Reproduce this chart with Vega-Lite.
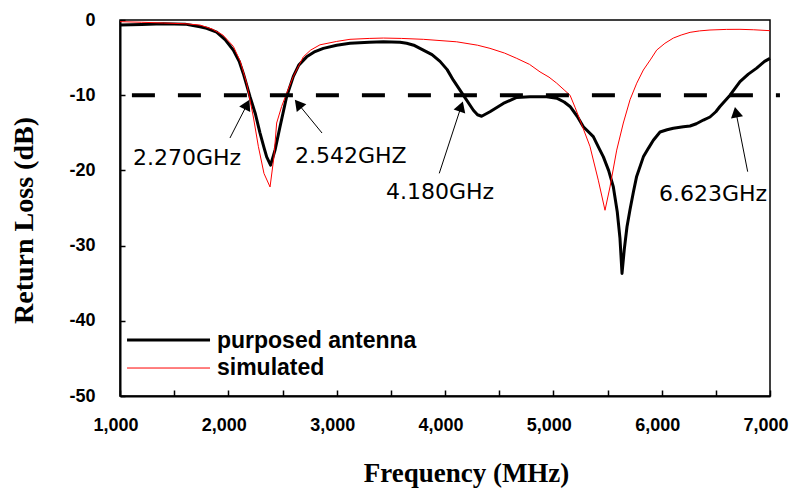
{
  "$schema": "https://vega.github.io/schema/vega-lite/v6.json",
  "width": 650,
  "height": 376,
  "autosize": {"type": "none"},
  "padding": {"left": 120, "top": 20, "right": 20, "bottom": 92},
  "background": "white",
  "config": {
    "view": {"stroke": "black", "strokeWidth": 1.5},
    "axis": {
      "grid": false,
      "domainColor": "black",
      "domainWidth": 2,
      "tickColor": "black",
      "tickWidth": 1.5,
      "labelColor": "black",
      "labelFont": "Liberation Sans",
      "labelFontWeight": "bold",
      "labelFontSize": 18,
      "labelFlush": false,
      "labelOverlap": false,
      "titleFont": "Liberation Serif",
      "titleFontWeight": "bold",
      "titleFontSize": 28,
      "titleColor": "black"
    }
  },
  "datasets": {
    "curves": [
      {"f": 1000, "db": -0.67, "s": "purposed antenna"},
      {"f": 1200, "db": -0.6, "s": "purposed antenna"},
      {"f": 1400, "db": -0.5, "s": "purposed antenna"},
      {"f": 1600, "db": -0.55, "s": "purposed antenna"},
      {"f": 1738, "db": -0.9, "s": "purposed antenna"},
      {"f": 1800, "db": -1.1, "s": "purposed antenna"},
      {"f": 1892, "db": -1.6, "s": "purposed antenna"},
      {"f": 1970, "db": -2.6, "s": "purposed antenna"},
      {"f": 2046, "db": -4.0, "s": "purposed antenna"},
      {"f": 2100, "db": -5.5, "s": "purposed antenna"},
      {"f": 2138, "db": -7.1, "s": "purposed antenna"},
      {"f": 2200, "db": -10.2, "s": "purposed antenna"},
      {"f": 2250, "db": -12.5, "s": "purposed antenna"},
      {"f": 2292, "db": -15, "s": "purposed antenna"},
      {"f": 2330, "db": -17, "s": "purposed antenna"},
      {"f": 2354, "db": -18.2, "s": "purposed antenna"},
      {"f": 2390, "db": -19.3, "s": "purposed antenna"},
      {"f": 2431, "db": -17.3, "s": "purposed antenna"},
      {"f": 2477, "db": -14.2, "s": "purposed antenna"},
      {"f": 2538, "db": -10.2, "s": "purposed antenna"},
      {"f": 2600, "db": -7.5, "s": "purposed antenna"},
      {"f": 2650, "db": -6.0, "s": "purposed antenna"},
      {"f": 2723, "db": -4.9, "s": "purposed antenna"},
      {"f": 2800, "db": -4.2, "s": "purposed antenna"},
      {"f": 2877, "db": -3.77, "s": "purposed antenna"},
      {"f": 3000, "db": -3.35, "s": "purposed antenna"},
      {"f": 3123, "db": -3.1, "s": "purposed antenna"},
      {"f": 3300, "db": -2.95, "s": "purposed antenna"},
      {"f": 3431, "db": -2.9, "s": "purposed antenna"},
      {"f": 3585, "db": -2.97, "s": "purposed antenna"},
      {"f": 3646, "db": -3.1, "s": "purposed antenna"},
      {"f": 3720, "db": -3.4, "s": "purposed antenna"},
      {"f": 3800, "db": -4.0, "s": "purposed antenna"},
      {"f": 3880, "db": -4.6, "s": "purposed antenna"},
      {"f": 3954, "db": -5.5, "s": "purposed antenna"},
      {"f": 4020, "db": -6.6, "s": "purposed antenna"},
      {"f": 4077, "db": -8.0, "s": "purposed antenna"},
      {"f": 4169, "db": -10.0, "s": "purposed antenna"},
      {"f": 4262, "db": -12.0, "s": "purposed antenna"},
      {"f": 4300, "db": -12.6, "s": "purposed antenna"},
      {"f": 4338, "db": -12.8, "s": "purposed antenna"},
      {"f": 4415, "db": -12.2, "s": "purposed antenna"},
      {"f": 4538, "db": -11.1, "s": "purposed antenna"},
      {"f": 4662, "db": -10.3, "s": "purposed antenna"},
      {"f": 4785, "db": -10.2, "s": "purposed antenna"},
      {"f": 4938, "db": -10.2, "s": "purposed antenna"},
      {"f": 5031, "db": -10.4, "s": "purposed antenna"},
      {"f": 5100, "db": -10.9, "s": "purposed antenna"},
      {"f": 5154, "db": -11.5, "s": "purposed antenna"},
      {"f": 5220, "db": -12.8, "s": "purposed antenna"},
      {"f": 5277, "db": -14.2, "s": "purposed antenna"},
      {"f": 5369, "db": -15.5, "s": "purposed antenna"},
      {"f": 5420, "db": -17, "s": "purposed antenna"},
      {"f": 5462, "db": -18.2, "s": "purposed antenna"},
      {"f": 5510, "db": -20, "s": "purposed antenna"},
      {"f": 5554, "db": -22.2, "s": "purposed antenna"},
      {"f": 5590, "db": -25.5, "s": "purposed antenna"},
      {"f": 5615, "db": -29.0, "s": "purposed antenna"},
      {"f": 5634, "db": -33.7, "s": "purposed antenna"},
      {"f": 5655, "db": -30.5, "s": "purposed antenna"},
      {"f": 5680, "db": -27.5, "s": "purposed antenna"},
      {"f": 5708, "db": -25.2, "s": "purposed antenna"},
      {"f": 5740, "db": -22.8, "s": "purposed antenna"},
      {"f": 5769, "db": -20.8, "s": "purposed antenna"},
      {"f": 5831, "db": -18.2, "s": "purposed antenna"},
      {"f": 5880, "db": -17, "s": "purposed antenna"},
      {"f": 5923, "db": -16.0, "s": "purposed antenna"},
      {"f": 5985, "db": -14.9, "s": "purposed antenna"},
      {"f": 6050, "db": -14.6, "s": "purposed antenna"},
      {"f": 6108, "db": -14.4, "s": "purposed antenna"},
      {"f": 6200, "db": -14.2, "s": "purposed antenna"},
      {"f": 6262, "db": -14.1, "s": "purposed antenna"},
      {"f": 6320, "db": -13.8, "s": "purposed antenna"},
      {"f": 6385, "db": -13.3, "s": "purposed antenna"},
      {"f": 6446, "db": -12.9, "s": "purposed antenna"},
      {"f": 6500, "db": -12.2, "s": "purposed antenna"},
      {"f": 6538, "db": -11.5, "s": "purposed antenna"},
      {"f": 6631, "db": -10.0, "s": "purposed antenna"},
      {"f": 6723, "db": -8.2, "s": "purposed antenna"},
      {"f": 6800, "db": -7.2, "s": "purposed antenna"},
      {"f": 6877, "db": -6.4, "s": "purposed antenna"},
      {"f": 6950, "db": -5.5, "s": "purposed antenna"},
      {"f": 7000, "db": -5.1, "s": "purposed antenna"},
      {"f": 1000, "db": -0.22, "s": "simulated"},
      {"f": 1200, "db": -0.3, "s": "simulated"},
      {"f": 1400, "db": -0.4, "s": "simulated"},
      {"f": 1600, "db": -0.5, "s": "simulated"},
      {"f": 1738, "db": -0.67, "s": "simulated"},
      {"f": 1850, "db": -1.2, "s": "simulated"},
      {"f": 1950, "db": -2.0, "s": "simulated"},
      {"f": 2046, "db": -3.5, "s": "simulated"},
      {"f": 2110, "db": -5.5, "s": "simulated"},
      {"f": 2169, "db": -8.4, "s": "simulated"},
      {"f": 2231, "db": -12.9, "s": "simulated"},
      {"f": 2277, "db": -16.8, "s": "simulated"},
      {"f": 2329, "db": -20.4, "s": "simulated"},
      {"f": 2385, "db": -22.2, "s": "simulated"},
      {"f": 2421, "db": -18.2, "s": "simulated"},
      {"f": 2446, "db": -13.7, "s": "simulated"},
      {"f": 2492, "db": -11.5, "s": "simulated"},
      {"f": 2538, "db": -9.75, "s": "simulated"},
      {"f": 2600, "db": -7.5, "s": "simulated"},
      {"f": 2692, "db": -4.9, "s": "simulated"},
      {"f": 2760, "db": -4.0, "s": "simulated"},
      {"f": 2846, "db": -3.3, "s": "simulated"},
      {"f": 3000, "db": -2.85, "s": "simulated"},
      {"f": 3123, "db": -2.57, "s": "simulated"},
      {"f": 3300, "db": -2.45, "s": "simulated"},
      {"f": 3431, "db": -2.4, "s": "simulated"},
      {"f": 3600, "db": -2.45, "s": "simulated"},
      {"f": 3800, "db": -2.57, "s": "simulated"},
      {"f": 4108, "db": -2.9, "s": "simulated"},
      {"f": 4300, "db": -3.35, "s": "simulated"},
      {"f": 4415, "db": -3.77, "s": "simulated"},
      {"f": 4550, "db": -4.4, "s": "simulated"},
      {"f": 4662, "db": -5.1, "s": "simulated"},
      {"f": 4780, "db": -5.9, "s": "simulated"},
      {"f": 4877, "db": -6.9, "s": "simulated"},
      {"f": 4960, "db": -7.6, "s": "simulated"},
      {"f": 5031, "db": -8.4, "s": "simulated"},
      {"f": 5100, "db": -9.3, "s": "simulated"},
      {"f": 5154, "db": -10.0, "s": "simulated"},
      {"f": 5200, "db": -11.6, "s": "simulated"},
      {"f": 5246, "db": -13.3, "s": "simulated"},
      {"f": 5338, "db": -16.8, "s": "simulated"},
      {"f": 5415, "db": -21.3, "s": "simulated"},
      {"f": 5477, "db": -25.3, "s": "simulated"},
      {"f": 5523, "db": -22.2, "s": "simulated"},
      {"f": 5585, "db": -17.3, "s": "simulated"},
      {"f": 5646, "db": -13.7, "s": "simulated"},
      {"f": 5708, "db": -10.6, "s": "simulated"},
      {"f": 5770, "db": -8.4, "s": "simulated"},
      {"f": 5831, "db": -6.65, "s": "simulated"},
      {"f": 5900, "db": -5.2, "s": "simulated"},
      {"f": 5954, "db": -4.0, "s": "simulated"},
      {"f": 6030, "db": -3.1, "s": "simulated"},
      {"f": 6108, "db": -2.4, "s": "simulated"},
      {"f": 6180, "db": -2.0, "s": "simulated"},
      {"f": 6262, "db": -1.64, "s": "simulated"},
      {"f": 6350, "db": -1.45, "s": "simulated"},
      {"f": 6446, "db": -1.33, "s": "simulated"},
      {"f": 6600, "db": -1.25, "s": "simulated"},
      {"f": 6723, "db": -1.24, "s": "simulated"},
      {"f": 6850, "db": -1.3, "s": "simulated"},
      {"f": 7000, "db": -1.42, "s": "simulated"}
    ],
    "threshold": [{"f1": 1110, "f2": 7092, "db": -10}],
    "arrows": [
      {"x1": 2015, "y1": -15.69, "x2": 2173, "y2": -11.24, "ang": 26.6, "tx": 1120, "ty": -19.28, "label": "2.270GHz"},
      {"x1": 2865, "y1": -15.03, "x2": 2645, "y2": -11.16, "ang": 321, "tx": 2615, "ty": -19.02, "label": "2.542GHZ"},
      {"x1": 3947, "y1": -20.39, "x2": 4149, "y2": -11.5, "ang": 18.7, "tx": 3455, "ty": -23.8, "label": "4.180GHz"},
      {"x1": 6794, "y1": -20.17, "x2": 6686, "y2": -12.26, "ang": 348.7, "tx": 5975, "ty": -24.07, "label": "6.623GHz"}
    ],
    "legend": [
      {"s": "purposed antenna", "x1": 1065, "x2": 1831, "y": -42.55, "tx": 1895, "ty": -43.62},
      {"s": "simulated", "x1": 1065, "x2": 1831, "y": -46.28, "tx": 1895, "ty": -47.2}
    ]
  },
  "layer": [
    {
      "data": {"name": "curves"},
      "mark": {"type": "line", "strokeJoin": "round"},
      "encoding": {
        "x": {
          "field": "f", "type": "quantitative",
          "scale": {"domain": [1000, 7000], "nice": false, "zero": false},
          "axis": {
            "values": [1000, 1500, 2000, 2500, 3000, 3500, 4000, 4500, 5000, 5500, 6000, 6500, 7000],
            "format": ",d",
            "labelExpr": "datum.value % 1000 === 0 ? datum.label : ''",
            "tickSize": -6,
            "labelPadding": 26,
            "labelAlign": "center",
            "labelOffset": -4.5,
            "title": "Frequency (MHz)",
            "titleFontSize": 27,
            "titleX": 346,
            "titleY": 85,
            "titleAlign": "center",
            "titleBaseline": "alphabetic"
          }
        },
        "y": {
          "field": "db", "type": "quantitative",
          "scale": {"domain": [-50, 0], "nice": false, "zero": false},
          "axis": {
            "values": [0, -5, -10, -15, -20, -25, -30, -35, -40, -45, -50],
            "labelExpr": "datum.value % 10 === 0 ? '' + datum.value : ''",
            "tickSize": -5,
            "labelPadding": 30,
            "title": "Return Loss (dB)",
            "titleX": -88,
            "titleY": 200,
            "titleAlign": "center",
            "titleBaseline": "alphabetic",
            "titleAngle": 270
          }
        },
        "detail": {"field": "s"},
        "color": {"field": "s", "type": "nominal", "scale": {"domain": ["purposed antenna", "simulated"], "range": ["black", "#ff0000"]}, "legend": null},
        "strokeWidth": {"field": "s", "type": "nominal", "scale": {"domain": ["purposed antenna", "simulated"], "range": [3, 1]}, "legend": null}
      }
    },
    {
      "data": {"name": "threshold"},
      "mark": {"type": "rule", "color": "black", "strokeWidth": 4, "strokeDash": [23, 23]},
      "encoding": {
        "x": {"field": "f1", "type": "quantitative"},
        "x2": {"field": "f2"},
        "y": {"field": "db", "type": "quantitative"}
      }
    },
    {
      "data": {"name": "arrows"},
      "mark": {"type": "rule", "color": "black", "strokeWidth": 1},
      "encoding": {
        "x": {"field": "x1", "type": "quantitative"},
        "x2": {"field": "x2"},
        "y": {"field": "y1", "type": "quantitative"},
        "y2": {"field": "y2"}
      }
    },
    {
      "data": {"name": "arrows"},
      "mark": {"type": "point", "shape": "triangle-up", "filled": true, "color": "black", "size": 150, "opacity": 1},
      "encoding": {
        "x": {"field": "x2", "type": "quantitative"},
        "y": {"field": "y2", "type": "quantitative"},
        "angle": {"field": "ang", "type": "quantitative", "scale": null}
      }
    },
    {
      "data": {"name": "arrows"},
      "mark": {"type": "text", "align": "left", "baseline": "alphabetic", "font": "DejaVu Sans", "fontSize": 22, "color": "black"},
      "encoding": {
        "x": {"field": "tx", "type": "quantitative"},
        "y": {"field": "ty", "type": "quantitative"},
        "text": {"field": "label"}
      }
    },
    {
      "data": {"name": "legend"},
      "mark": {"type": "rule"},
      "encoding": {
        "x": {"field": "x1", "type": "quantitative"},
        "x2": {"field": "x2"},
        "y": {"field": "y", "type": "quantitative"},
        "color": {"field": "s", "type": "nominal", "legend": null},
        "strokeWidth": {"field": "s", "type": "nominal", "legend": null}
      }
    },
    {
      "data": {"name": "legend"},
      "mark": {"type": "text", "align": "left", "baseline": "alphabetic", "font": "Liberation Sans", "fontWeight": "bold", "fontSize": 23, "color": "black"},
      "encoding": {
        "x": {"field": "tx", "type": "quantitative"},
        "y": {"field": "ty", "type": "quantitative"},
        "text": {"field": "s"}
      }
    }
  ]
}
